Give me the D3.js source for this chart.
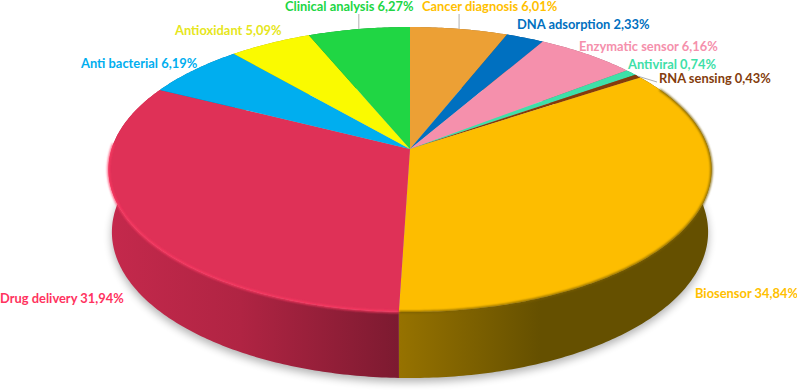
<!DOCTYPE html>
<html>
<head>
<meta charset="utf-8">
<script src="https://cdn.jsdelivr.net/npm/d3@7"></script>
<style>
html, body { margin: 0; padding: 0; background: #fff; }
svg { display: block; }
text { font-family: Lato, sans-serif; font-weight: 700; font-size: 12.9px; }
</style>
</head>
<body>
<div id="chart"></div>
<script>
// Data, clockwise from 12 o'clock
const categories = ['Cancer diagnosis', 'DNA adsorption', 'Enzymatic sensor', 'Antiviral', 'RNA sensing',
    'Biosensor', 'Drug delivery', 'Anti bacterial', 'Antioxidant', 'Clinical analysis'];
const values = [6.01, 2.33, 6.16, 0.74, 0.43, 34.84, 31.94, 6.19, 5.09, 6.27];

// Styles
const sliceColors = ['#eca035', '#0070c0', '#f590ac', '#3ee0a8', '#843c0c', '#fdbd00', '#df3157', '#00aeef', '#fafa00', '#20d644'];
const labelColors = ['#ffc000', '#0070c0', '#f590ac', '#3ee0a8', '#843c0c', '#ffc000', '#ff3360', '#00aeef', '#e6e620', '#20d644'];

// Label anchors (left edge, baseline)
const labelX = [422, 517, 579, 628, 659, 695, 0, 81, 175, 285];
const labelY = [11, 29, 51, 69, 83, 298, 303, 68, 35, 11];
const leaderFor = ['Cancer diagnosis', 'Clinical analysis'];

const width = 797;
const height = 390;

// The disc is a unit circle seen in perspective
const persp = 0.1439;
const topX = d3.scaleLinear().domain([-1, 1]).range([410 - 298.4, 410 + 298.4]);
const topY = d3.scaleLinear().domain([-1, 1]).range([149 + 139.55, 149 - 139.55]);
const baseX = d3.scaleLinear().domain([-1, 1]).range([410 - 295, 410 + 295]);
const baseY = d3.scaleLinear().domain([-1, 1]).range([211 + 143, 211 - 143]);

function project(angle, sx, sy) {
    const u = Math.sin(angle);
    const v = Math.cos(angle);
    const den = 1 + persp * v;
    return [sx(u / den), sy(v / den)];
}

function arcPoints(a0, a1, sx, sy) {
    const steps = Math.max(2, Math.ceil((a1 - a0) * 80));
    return d3.range(steps + 1).map(i => project(a0 + (a1 - a0) * i / steps, sx, sy));
}

const line = d3.line();
const closed = pts => line(pts) + 'Z';

const pieData = d3.pie().sort(null).value(d => d)(values);

const svg = d3.select('#chart').append('svg')
    .attr('width', width)
    .attr('height', height);

const defs = svg.append('defs');

defs.append('filter').attr('id', 'shadow')
    .attr('x', '-10%').attr('y', '-10%').attr('width', '120%').attr('height', '120%')
    .append('feGaussianBlur').attr('stdDeviation', 4);

defs.append('filter').attr('id', 'soft')
    .attr('x', '-5%').attr('y', '-5%').attr('width', '110%').attr('height', '110%')
    .append('feGaussianBlur').attr('stdDeviation', 0.9);

// Wall shading for the two slices whose side is visible
const redGrad = defs.append('linearGradient').attr('id', 'wall-red')
    .attr('gradientUnits', 'userSpaceOnUse')
    .attr('x1', 110).attr('x2', 400).attr('y1', 0).attr('y2', 0);
redGrad.append('stop').attr('offset', '0%').attr('stop-color', '#c4294c');
redGrad.append('stop').attr('offset', '45%').attr('stop-color', '#b02443');
redGrad.append('stop').attr('offset', '100%').attr('stop-color', '#7c1a30');

const goldGrad = defs.append('linearGradient').attr('id', 'wall-gold')
    .attr('gradientUnits', 'userSpaceOnUse')
    .attr('x1', 400).attr('x2', 540).attr('y1', 0).attr('y2', 0);
goldGrad.append('stop').attr('offset', '0%').attr('stop-color', '#967200');
goldGrad.append('stop').attr('offset', '100%').attr('stop-color', '#655000');

// Soft shadow below the disc
svg.append('path')
    .attr('d', closed(arcPoints(0, 2 * Math.PI, baseX, baseY)))
    .attr('transform', 'translate(0,4)')
    .attr('fill', '#000')
    .attr('opacity', 0.3)
    .attr('filter', 'url(#shadow)');

// Walls
svg.selectAll('.wall')
    .data(pieData)
    .enter()
    .append('path')
    .attr('class', 'wall')
    .attr('d', d => {
        const upper = arcPoints(d.startAngle, d.endAngle, topX, topY);
        const lower = arcPoints(d.startAngle, d.endAngle, baseX, baseY).reverse();
        return closed(upper.concat(lower));
    })
    .attr('fill', (d, i) => categories[i] === 'Drug delivery' ? 'url(#wall-red)'
        : categories[i] === 'Biosensor' ? 'url(#wall-gold)' : d3.color(sliceColors[i]).darker(1.2));

// Top faces
svg.selectAll('.slice')
    .data(pieData)
    .enter()
    .append('path')
    .attr('class', 'slice')
    .attr('d', d => closed([[topX(0), topY(0)]]
        .concat(arcPoints(d.startAngle, d.endAngle, topX, topY))))
    .attr('fill', (d, i) => sliceColors[i]);

// Bevel along the front rim
const bevels = [
    { name: 'Biosensor', color: '#7d6100', from: 1.1 },
    { name: 'Drug delivery', color: '#ff3a64', to: 4.75 }
];
bevels.forEach(b => {
    const d = pieData[categories.indexOf(b.name)];
    svg.append('path')
        .attr('d', line(arcPoints(b.from || d.startAngle, b.to || d.endAngle, topX, topY)))
        .attr('fill', 'none')
        .attr('stroke', b.color)
        .attr('stroke-width', 2)
        .attr('filter', 'url(#soft)');
});

// Leader lines
leaderFor.forEach(name => {
    const d = pieData[categories.indexOf(name)];
    const p = project((d.startAngle + d.endAngle) / 2, topX, topY);
    svg.append('line')
        .attr('x1', p[0]).attr('x2', p[0])
        .attr('y1', p[1]).attr('y2', 14)
        .attr('stroke', '#b0b0b0');
});
const rna = pieData[categories.indexOf('RNA sensing')];
const rnaPoint = project((rna.startAngle + rna.endAngle) / 2, topX, topY);
svg.append('line')
    .attr('x1', rnaPoint[0]).attr('y1', rnaPoint[1])
    .attr('x2', labelX[categories.indexOf('RNA sensing')] - 2)
    .attr('y2', labelY[categories.indexOf('RNA sensing')] - 1)
    .attr('stroke', '#b0b0b0');

// Labels
svg.selectAll('.label')
    .data(categories)
    .enter()
    .append('text')
    .attr('class', 'label')
    .attr('x', (d, i) => labelX[i])
    .attr('y', (d, i) => labelY[i])
    .attr('fill', (d, i) => labelColors[i])
    .text((d, i) => `${d} ${values[i].toFixed(2).replace('.', ',')}%`);
</script>
</body>
</html>
